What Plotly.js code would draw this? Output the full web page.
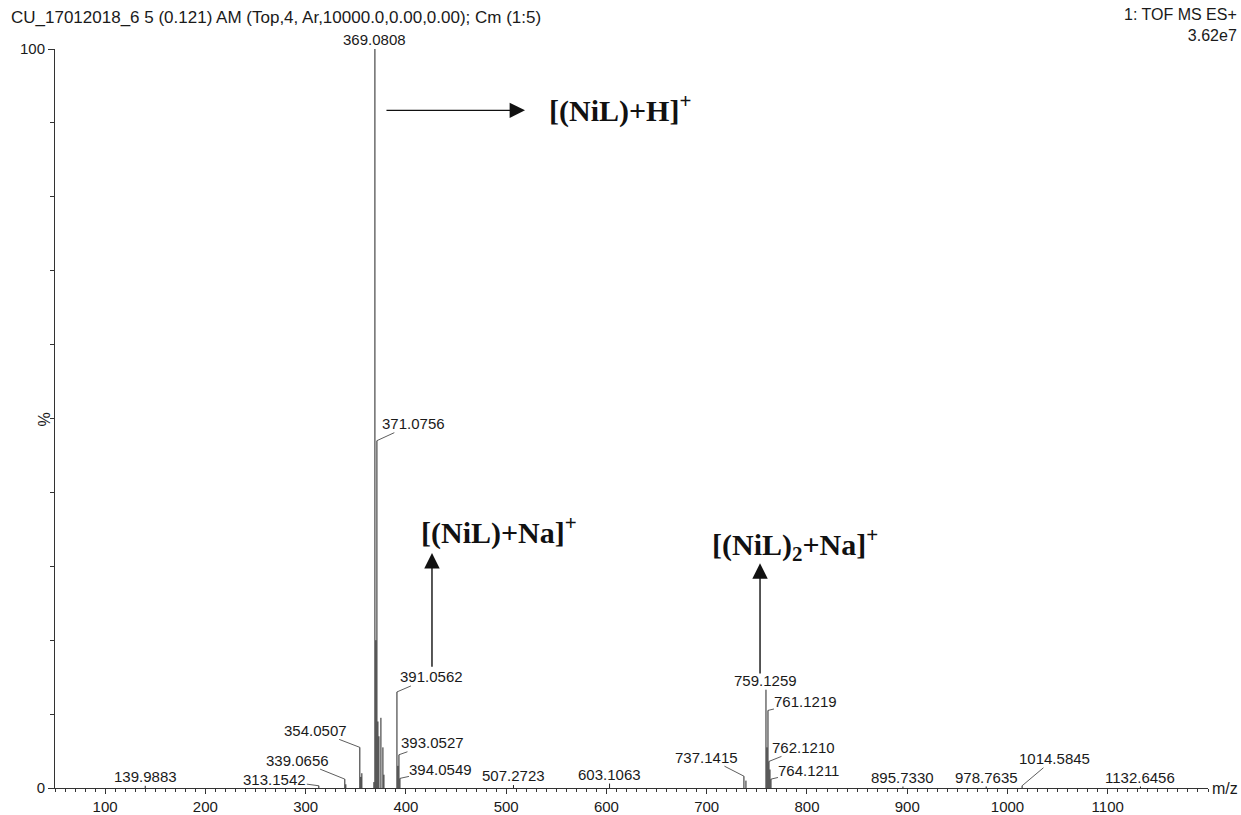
<!DOCTYPE html>
<html>
<head>
<meta charset="utf-8">
<script src="https://cdn.plot.ly/plotly-3.0.1.min.js"></script>
<style>html,body{margin:0;padding:0;background:#fff;}#chart{width:1241px;height:815px;}</style>
</head>
<body>
<div id="chart"></div>
<script>
// ---- data (m/z, relative intensity %) ----
const peakMz = [139.9883, 313.1542, 339.0656, 340.07, 354.0507, 355.05, 356.05,
  368.08, 369.0808, 370.08, 371.0756, 372.08, 373.07, 375.07, 377.07, 378.07,
  391.0562, 392.06, 393.0527, 394.0549, 507.2723, 603.1063,
  737.1415, 739.14, 759.1259, 760.13, 761.1219, 762.1210, 763.12, 764.1211,
  895.7330, 978.7635, 1014.5845, 1132.6456];
const peakInt = [0.3, 0.3, 1.2, 0.5, 5.5, 1.5, 2.0,
  0.8, 100, 20, 47, 9, 7, 9.5, 5.5, 1.8,
  13, 3, 4.5, 1.3, 0.4, 0.6,
  1.6, 1.0, 13.3, 5.5, 10.5, 3.6, 2.5, 1.2,
  0.2, 0.2, 0.3, 0.2];

// labelled peaks
const labelMz = [139.9883, 313.1542, 339.0656, 354.0507, 369.0808, 371.0756,
  391.0562, 393.0527, 394.0549, 507.2723, 603.1063, 737.1415, 759.1259,
  761.1219, 762.1210, 764.1211, 895.7330, 978.7635, 1014.5845, 1132.6456];

const xTickVals = [100, 200, 300, 400, 500, 600, 700, 800, 900, 1000, 1100];
const headerLeft = "CU_17012018_6 5 (0.121) AM (Top,4, Ar,10000.0,0.00,0.00); Cm (1:5)";
const headerRight1 = "1: TOF MS ES+";
const headerRight2 = "3.62e7";
const ionLabels = ["[(NiL)+H]<sup>+</sup>", "[(NiL)+Na]<sup>+</sup>", "[(NiL)<sub>2</sub>+Na]<sup>+</sup>"];

// ---- build stick spectrum ----
const sx = [], sy = [];
peakMz.forEach((m, i) => { sx.push(m, m, null); sy.push(0, peakInt[i], null); });
const intOf = m => peakInt[peakMz.indexOf(m)];

// leader-line offsets (pixels) for labels that sit beside their peak
const leader = {
  313.1542: [-44, -6], 339.0656: [-47, -19], 354.0507: [-44, -17],
  371.0756: [37, -17], 391.0562: [35, -15], 393.0527: [34, -12], 394.0549: [41, -9],
  737.1415: [-37, -19], 761.1219: [38, -9], 762.1210: [35, -14], 764.1211: [38, -9],
  1014.5845: [32, -27]
};

const labFont = {family: "Liberation Sans, Arial, sans-serif", size: 15, color: "#1a1a1a"};
const annotations = [];
labelMz.forEach(m => {
  const t = m.toFixed(4);
  if (leader[m]) {
    annotations.push({x: m, y: intOf(m), xref: 'x', yref: 'y', text: t, font: labFont,
      showarrow: true, arrowhead: 0, arrowwidth: 0.8, arrowcolor: '#333',
      ax: leader[m][0], ay: leader[m][1], standoff: 0, borderpad: 0});
  } else {
    annotations.push({x: m, y: intOf(m), xref: 'x', yref: 'y', text: t, font: labFont,
      showarrow: false, yanchor: 'bottom', yshift: 0, borderpad: 0});
  }
});

// header text
const hFont = {family: "Liberation Sans, Arial, sans-serif", size: 17, color: "#1a1a1a"};
annotations.push({xref: 'paper', yref: 'paper', x: -0.039, y: 1.042, xanchor: 'left', yanchor: 'middle', text: headerLeft, showarrow: false, font: hFont, borderpad: 0});
annotations.push({xref: 'paper', yref: 'paper', x: 1.026, y: 1.0325, xanchor: 'right', yanchor: 'middle', align: 'right',
  text: headerRight1 + "<br>" + headerRight2, showarrow: false, borderpad: 0,
  font: {family: "Liberation Sans, Arial, sans-serif", size: 16, color: "#1a1a1a"}});
annotations.push({xref: 'paper', yref: 'paper', x: 1.0148, y: 0, xanchor: 'center', yanchor: 'middle', text: "m/z", showarrow: false, font: {family: "Liberation Sans, Arial, sans-serif", size: 16, color: "#1a1a1a"}});
annotations.push({xref: 'paper', yref: 'paper', x: -0.009, y: 0.498, xanchor: 'center', yanchor: 'middle', text: "%", textangle: -90, showarrow: false, font: {family: "Liberation Sans, Arial, sans-serif", size: 16, color: "#1a1a1a"}});

// ion assignment labels and arrows
const ionFont = {family: "Liberation Serif, Times New Roman, serif", size: 30, color: "#111"};
annotations.push({x: 614, y: 92.0, xref: 'x', yref: 'y', text: "<b>" + ionLabels[0] + "</b>", showarrow: false, font: ionFont});
annotations.push({x: 492.9, y: 34.9, xref: 'x', yref: 'y', text: "<b>" + ionLabels[1] + "</b>", showarrow: false, font: ionFont});
annotations.push({x: 788.1, y: 32.9, xref: 'x', yref: 'y', text: "<b>" + ionLabels[2] + "</b>", showarrow: false, font: ionFont});
const arrowStyle = {text: '', showarrow: true, arrowhead: 2, arrowsize: 2.2, arrowwidth: 1.4, arrowcolor: '#111', axref: 'x', ayref: 'y', xref: 'x', yref: 'y'};
annotations.push(Object.assign({}, arrowStyle, {x: 518.8, y: 91.7, ax: 379.1, ay: 91.7}));
annotations.push(Object.assign({}, arrowStyle, {x: 426, y: 31.8, ax: 426, ay: 16.2}));
annotations.push(Object.assign({}, arrowStyle, {x: 753.2, y: 30.4, ax: 753.2, ay: 15.3}));

const tickFont = {family: "Liberation Sans, Arial, sans-serif", size: 15, color: "#1a1a1a"};
const layout = {
  width: 1241, height: 815,
  margin: {l: 55, r: 33, t: 49, b: 27},
  paper_bgcolor: '#fff', plot_bgcolor: '#fff',
  showlegend: false,
  xaxis: {range: [50, 1200], showgrid: false, zeroline: false, showline: true, linecolor: '#333', linewidth: 1,
    tickmode: 'array', tickvals: xTickVals, ticktext: xTickVals.map(String), ticks: 'outside', ticklen: 5, tickcolor: '#333',
    tickfont: tickFont, minor: {dtick: 10, tick0: 0, ticks: 'outside', ticklen: 3, tickcolor: '#333', showgrid: false}},
  yaxis: {range: [0, 100], showgrid: false, zeroline: false, showline: true, linecolor: '#333', linewidth: 1,
    tickmode: 'array', tickvals: [0, 100], ticktext: ['0', '100'], ticks: 'outside', ticklen: 6, tickcolor: '#333',
    tickfont: tickFont, minor: {dtick: 10, tick0: 0, ticks: 'outside', ticklen: 4, tickcolor: '#333', showgrid: false}},
  annotations: annotations
};

Plotly.newPlot('chart', [{x: sx, y: sy, type: 'scatter', mode: 'lines', line: {color: '#222', width: 1}, hoverinfo: 'skip', cliponaxis: false}], layout, {displayModeBar: false, staticPlot: true});
</script>
</body>
</html>
